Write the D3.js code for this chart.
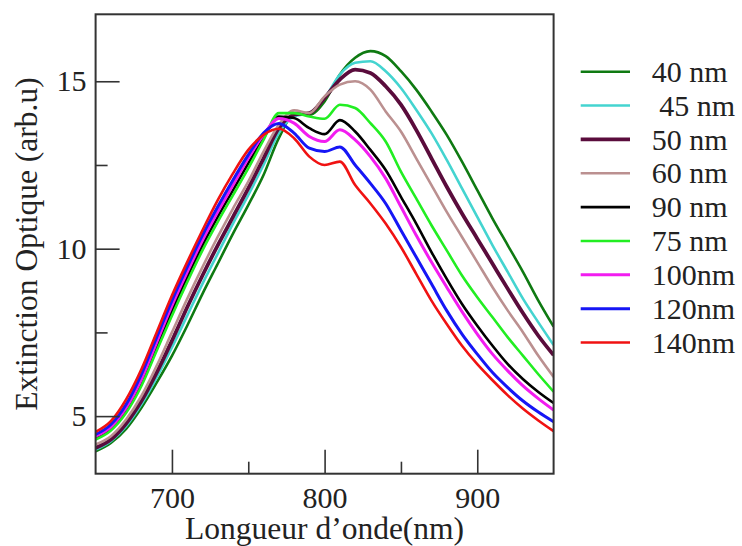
<!DOCTYPE html>
<html><head><meta charset="utf-8">
<script src="https://cdn.jsdelivr.net/npm/d3@7/dist/d3.min.js"></script>
<style>
html,body{margin:0;padding:0;background:#fff;}
svg text{font-family:"Liberation Serif","Times New Roman",serif;fill:#222;}
</style></head>
<body><svg id="c" width="742" height="546"></svg>
<script>
const wavelengths = [650,660,670,680,690,700,710,720,730,740,750,760,770,780,790,800,810,820,830,840,850,860,870,880,890,900,910,920,930,940,950];
const seriesNames = ["40 nm"," 45 nm","50 nm","60 nm","90 nm","75 nm","100nm","120nm","140nm"];
const seriesColors = ["#0f7a12","#44d4d0","#5a0c3c","#bb9090","#000000","#22ee22","#f21cf0","#1616f5","#f01212"];
const seriesWidths = [2.6,2.6,3.8,2.6,2.6,2.6,3,3,2.6];
const s40  = [3.95,4.2,4.62,5.25,6.0,6.8,7.7,8.65,9.55,10.45,11.3,12.2,13.3,14.0,14.0,14.4,15.2,15.7,15.9,15.75,15.3,14.75,14.1,13.4,12.6,11.75,10.9,10.1,9.3,8.45,7.67];
const s45  = [4.0,4.25,4.7,5.35,6.15,7.05,8.0,8.95,9.85,10.75,11.6,12.5,13.45,13.95,14.05,14.5,15.2,15.55,15.6,15.3,14.8,14.15,13.45,12.65,11.8,10.95,10.1,9.3,8.5,7.8,7.12];
const s50  = [4.05,4.3,4.78,5.45,6.3,7.25,8.25,9.2,10.1,10.95,11.8,12.7,13.6,14.0,14.05,14.5,15.05,15.35,15.25,14.85,14.3,13.55,12.7,11.85,11.05,10.3,9.55,8.8,8.07,7.4,6.82];
const s60  = [4.15,4.4,4.9,5.6,6.5,7.5,8.5,9.45,10.35,11.2,12.0,12.9,13.7,14.13,14.05,14.55,14.9,15.0,14.75,14.1,13.5,12.7,11.9,11.1,10.35,9.6,8.85,8.15,7.5,6.8,6.17];
const s90  = [4.35,4.62,5.18,6.0,7.05,8.15,9.15,10.1,10.95,11.75,12.55,13.3,13.95,13.9,13.6,13.42,13.84,13.5,12.95,12.35,11.55,10.75,9.9,9.1,8.35,7.7,7.1,6.55,6.1,5.72,5.39];
const s75  = [4.3,4.57,5.1,5.9,6.95,8.0,9.0,9.95,10.8,11.6,12.4,13.25,14.05,14.05,13.95,13.88,14.3,14.2,13.75,13.2,12.3,11.5,10.7,9.95,9.2,8.55,7.95,7.35,6.8,6.25,5.73];
const s100 = [4.4,4.68,5.25,6.1,7.2,8.3,9.3,10.25,11.1,11.9,12.7,13.4,13.89,13.75,13.35,13.2,13.55,13.25,12.75,12.1,11.25,10.4,9.6,8.85,8.12,7.45,6.85,6.35,5.9,5.52,5.18];
const s120 = [4.45,4.75,5.35,6.25,7.35,8.45,9.45,10.4,11.25,12.05,12.8,13.45,13.74,13.45,13.0,12.9,13.04,12.5,11.95,11.35,10.55,9.75,8.95,8.15,7.45,6.85,6.3,5.85,5.45,5.12,4.83];
const s140 = [4.53,4.85,5.5,6.4,7.5,8.6,9.6,10.55,11.45,12.25,12.95,13.4,13.58,13.3,12.75,12.5,12.6,11.9,11.35,10.75,10.05,9.25,8.45,7.75,7.1,6.55,6.07,5.62,5.22,4.87,4.55];
const seriesValues = [s40,s45,s50,s60,s90,s75,s100,s120,s140];
const xMajorTicks = [700,800,900];
const xMinorTicks = [750,850];
const yMajorTicks = [5,10,15];
const yMinorTicks = [7.5,12.5];
const xTitle = "Longueur d\u2019onde(nm)";
const yTitle = "Extinction Optique (arb.u)";

const L=95.6, R=553.6, T=14.3, B=473.7;
const svg = d3.select("#c");
const x = d3.scaleLinear().domain([650,950]).range([L,R]);
const y = d3.scaleLinear().domain([3.28,17]).range([B,T]);

svg.append("rect").attr("width",742).attr("height",546).attr("fill","#fff");

const line = d3.line().curve(d3.curveMonotoneX).x(d=>x(d[0])).y(d=>y(d[1]));
svg.append("clipPath").attr("id","pc").append("rect")
  .attr("x",L).attr("y",T).attr("width",R-L).attr("height",B-T);
const g = svg.append("g").attr("clip-path","url(#pc)");
seriesValues.forEach((vals,i)=>{
  g.append("path").datum(wavelengths.map((w,j)=>[w,vals[j]]))
   .attr("d",line).attr("fill","none").attr("stroke",seriesColors[i])
   .attr("stroke-width",seriesWidths[i]).attr("stroke-linejoin","round");
});

function styleAxis(sel){
  sel.select(".domain").remove();
  sel.selectAll("line").attr("stroke","#333").attr("stroke-width",1.6);
  sel.selectAll("text").attr("font-size",30).attr("fill","#222").attr("font-family","Liberation Serif, serif");
}
svg.append("g").attr("transform",`translate(0,${B})`)
  .call(d3.axisBottom(x).tickValues(xMajorTicks).tickSize(-24).tickPadding(13).tickFormat(d3.format("d")))
  .call(styleAxis);
svg.append("g").attr("transform",`translate(0,${B})`)
  .call(d3.axisBottom(x).tickValues(xMinorTicks).tickSize(-12).tickFormat(""))
  .call(styleAxis);
svg.append("g").attr("transform",`translate(${L},0)`)
  .call(d3.axisLeft(y).tickValues(yMajorTicks).tickSize(-24).tickPadding(9).tickFormat(d3.format("d")))
  .call(styleAxis);
svg.append("g").attr("transform",`translate(${L},0)`)
  .call(d3.axisLeft(y).tickValues(yMinorTicks).tickSize(-12).tickFormat(""))
  .call(styleAxis);
svg.append("rect").attr("x",L).attr("y",T).attr("width",R-L).attr("height",B-T)
  .attr("fill","none").attr("stroke","#333").attr("stroke-width",2);

svg.append("text").attr("x",(L+R)/2).attr("y",539).attr("text-anchor","middle")
  .attr("font-size",31.5).text(xTitle);
svg.append("text").attr("transform",`translate(36.5,${(T+B)/2}) rotate(-90)`).attr("text-anchor","middle")
  .attr("font-size",31.5).text(yTitle);

const lg = svg.append("g");
seriesNames.forEach((n,i)=>{
  const yy = 71.7 + i*33.85;
  lg.append("line").attr("x1",580.7).attr("x2",630).attr("y1",yy).attr("y2",yy)
    .attr("stroke",seriesColors[i]).attr("stroke-width",seriesWidths[i]);
  lg.append("text").attr("x",651.7).attr("y",yy).attr("dy","0.34em")
    .attr("font-size",30).style("white-space","pre").text(n);
});
</script></body></html>
